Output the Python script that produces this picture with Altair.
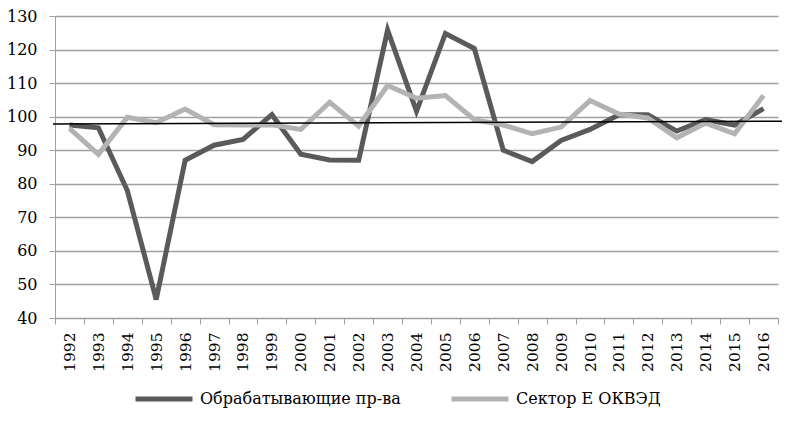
import altair as alt
import pandas as pd

years = [str(y) for y in range(1992, 2017)]
manuf = [97.5, 96.7, 78.0, 45.5, 87.0, 91.5, 93.2, 100.6, 88.8, 87.1, 87.0, 125.8,
         101.6, 124.8, 120.3, 90.0, 86.6, 92.9, 96.2, 100.6, 100.6, 95.7, 99.1, 97.5, 102.4]
sector_e = [96.5, 88.8, 99.8, 98.2, 102.3, 97.6, 97.5, 97.6, 96.2, 104.3, 97.2, 109.3,
            105.5, 106.3, 99.1, 97.5, 94.9, 96.9, 104.8, 100.8, 99.6, 93.7, 98.1, 94.9, 106.3]
series_names = ["Обрабатывающие пр-ва", "Сектор Е ОКВЭД"]
series_colors = ["#5a5a5a", "#b3b3b3"]
ref_start, ref_end = 97.8, 98.65

rows = []
for name, vals in zip(series_names, [manuf, sector_e]):
    for y, v in zip(years, vals):
        rows.append({"year": y, "value": v, "series": name})
df = pd.DataFrame(rows)

W, H = 723, 302
FONT = "DejaVu Serif"
ydom = alt.Scale(domain=[40, 130], nice=False, zero=False)

x_enc = alt.X("year:N", sort=years, title=None,
              scale=alt.Scale(paddingInner=0, paddingOuter=0),
              axis=alt.Axis(labelAngle=-90, labelFontSize=15.5, labelFont=FONT, labelColor="#000",
                            tickBand="extent", tickSize=6, tickColor="#a0a0a0", domainColor="#a0a0a0",
                            labelPadding=8, labelBaseline="middle", labelAlign="right", grid=False))
y_axis = alt.Axis(values=list(range(40, 131, 10)), labelFontSize=16, labelFont=FONT,
                  labelColor="#000", tickSize=6, tickColor="#a0a0a0", domainColor="#a0a0a0",
                  labelPadding=12, labelOverlap=False, grid=True,
                  gridColor="#a0a0a0", gridWidth=1.3)
y_enc = alt.Y("value:Q", title=None, scale=ydom, axis=y_axis)

lines = alt.Chart(df).mark_line(strokeWidth=5, strokeJoin="miter").encode(
    x=x_enc, y=y_enc,
    color=alt.Color("series:N", sort=series_names,
                    scale=alt.Scale(domain=series_names, range=series_colors),
                    legend=alt.Legend(title=None, orient="none", direction="horizontal",
                                      legendX=78, legendY=352, symbolType="stroke",
                                      symbolSize=3249, symbolStrokeWidth=5, labelFont=FONT,
                                      labelFontSize=16, labelColor="#000", labelOffset=5,
                                      labelLimit=400, columnPadding=40)),
)

ref = alt.Chart(pd.DataFrame({"a": [ref_start], "b": [ref_end]})).mark_rule(
    color="black", strokeWidth=1.5, clip=False).encode(
    y=alt.Y("a:Q", title=None, scale=ydom, axis=y_axis),
    y2="b:Q",
    x=alt.value(-2), x2=alt.value(727))

chart = alt.layer(lines, ref).properties(
    width=W, height=H,
    autosize=alt.AutoSizeParams(type="none"),
    padding={"left": 47, "top": 8, "right": 4, "bottom": 97},
).configure_view(stroke=None)

chart.save("out.html", embed_options={"renderer": "svg", "actions": False})
